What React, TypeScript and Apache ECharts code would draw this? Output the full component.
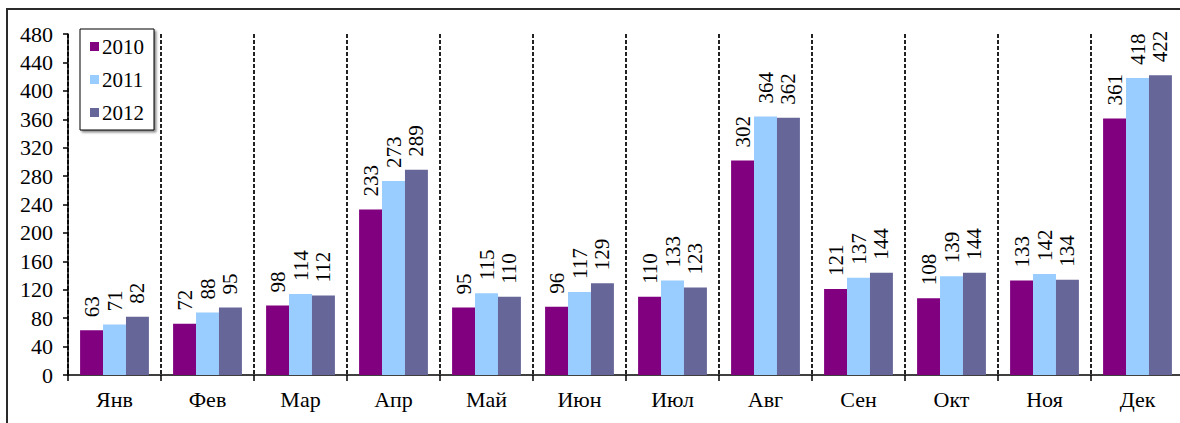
import React, { useEffect, useRef } from "react";
import * as echarts from "echarts";

const categories = ["Янв", "Фев", "Мар", "Апр", "Май", "Июн", "Июл", "Авг", "Сен", "Окт", "Ноя", "Дек"];
const seriesNames = ["2010", "2011", "2012"];
const values2010 = [63, 72, 98, 233, 95, 96, 110, 302, 121, 108, 133, 361];
const values2011 = [71, 88, 114, 273, 115, 117, 133, 364, 137, 139, 142, 418];
const values2012 = [82, 95, 112, 289, 110, 129, 123, 362, 144, 144, 134, 422];
const colors = ["#800080", "#99CCFF", "#666699"];

const FONT = "Liberation Serif";

export default function App() {
  const ref = useRef<HTMLDivElement>(null);
  useEffect(() => {
    if (!ref.current) return;
    const chart = echarts.init(ref.current, undefined, { renderer: "svg" });
    const allValues = [values2010, values2011, values2012];
    chart.setOption({
      animation: false,
      backgroundColor: "#ffffff",
      textStyle: { fontFamily: FONT },
      grid: { left: 68, right: 16, top: 34, bottom: 48 },
      legend: {
        data: seriesNames,
        orient: "vertical",
        left: 80,
        top: 29,
        padding: [7, 10, 7, 10],
        itemGap: 12,
        itemWidth: 9,
        itemHeight: 9,
        icon: "rect",
        backgroundColor: "#ffffff",
        borderColor: "#000000",
        borderWidth: 1,
        shadowColor: "rgba(0,0,0,0.45)",
        shadowBlur: 2,
        shadowOffsetX: 2,
        shadowOffsetY: 2,
        textStyle: { fontFamily: FONT, fontSize: 21, color: "#000", padding: [0, 0, 0, -2] },
      },
      xAxis: {
        type: "category",
        data: categories,
        axisLine: { show: true, lineStyle: { color: "#000", width: 1.5 } },
        axisTick: { show: true, inside: false, length: 6, lineStyle: { color: "#000", width: 1.5 } },
        axisLabel: { fontFamily: FONT, fontSize: 22, color: "#000", margin: 13 },
        splitLine: { show: true, lineStyle: { color: "#222", width: 2, type: [4, 2] } },
      },
      yAxis: {
        type: "value",
        min: 0,
        max: 480,
        interval: 40,
        axisLine: { show: true, lineStyle: { color: "#000", width: 1.5 } },
        axisTick: { show: true, inside: false, length: 5, lineStyle: { color: "#000", width: 1.5 } },
        axisLabel: { fontFamily: FONT, fontSize: 22, color: "#000", margin: 15 },
        splitLine: { show: false },
      },
      series: seriesNames.map((name, i) => ({
        name,
        type: "bar",
        data: allValues[i],
        barGap: "0%",
        barCategoryGap: "26%",
        itemStyle: { color: colors[i] },
        label: {
          show: true,
          position: "top",
          rotate: 90,
          align: "left",
          verticalAlign: "middle",
          distance: 13,
          fontFamily: FONT,
          fontSize: 21,
          color: "#000",
        },
      })),
      graphic: [
        {
          type: "rect",
          shape: { x: 7, y: 9, width: 1300, height: 600 },
          style: { fill: "none", stroke: "#2a2a2a", lineWidth: 2 },
          silent: true,
          z: 100,
        },
      ],
    });
    return () => chart.dispose();
  }, []);
  return (
    <div style={{ position: "absolute", left: 0, top: 0, width: 1180, height: 423, overflow: "hidden" }}>
      <div ref={ref} style={{ width: 1200, height: 423 }} />
    </div>
  );
}
